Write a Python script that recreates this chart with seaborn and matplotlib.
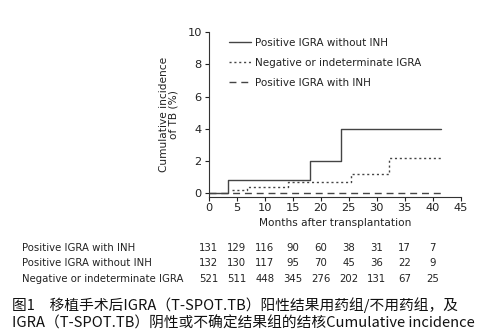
import matplotlib
matplotlib.use("Agg")
import matplotlib.pyplot as plt
import matplotlib.transforms as mtransforms
import seaborn as sns
import pandas as pd

# Kaplan-Meier style cumulative incidence (%) — step points per group
groups = ["Positive IGRA without INH",
          "Negative or indeterminate IGRA",
          "Positive IGRA with INH"]

t_pos_no_inh = [0, 3.4, 18.0, 23.6, 41.5]
y_pos_no_inh = [0, 0.8, 2.0, 4.0, 4.0]

t_neg = [4.1, 6.9, 14.1, 25.5, 32.2, 41.5]
y_neg = [0.2, 0.4, 0.7, 1.2, 2.2, 2.2]

t_pos_inh = [0, 41.5]
y_pos_inh = [0, 0]

# Numbers at risk
risk_times = [0, 5, 10, 15, 20, 25, 30, 35, 40]
risk_labels = ["Positive IGRA with INH",
               "Positive IGRA without INH",
               "Negative or indeterminate IGRA"]
risk_pos_inh = [131, 129, 116, 90, 60, 38, 31, 17, 7]
risk_pos_no_inh = [132, 130, 117, 95, 70, 45, 36, 22, 9]
risk_neg = [521, 511, 448, 345, 276, 202, 131, 67, 25]

caption_lines = [
    "图1　移植手术后IGRA（T-SPOT.TB）阳性结果用药组/不用药组，及",
    "IGRA（T-SPOT.TB）阴性或不确定结果组的结核Cumulative incidence",
]

sns.set_theme(style="ticks")
plt.rcParams["font.family"] = ["DejaVu Sans"]

df = pd.concat([
    pd.DataFrame({"t": t_pos_no_inh, "y": y_pos_no_inh, "g": groups[0]}),
    pd.DataFrame({"t": t_neg, "y": y_neg, "g": groups[1]}),
    pd.DataFrame({"t": t_pos_inh, "y": y_pos_inh, "g": groups[2]}),
], ignore_index=True)

fig = plt.figure(figsize=(4.88, 3.36), dpi=100)
ax = fig.add_axes([208.7 / 488, 1 - 196.5 / 336, (460.7 - 208.7) / 488, (196.5 - 32) / 336])

line_color = "#444444"
sns.lineplot(data=df, x="t", y="y", hue="g", style="g",
             hue_order=groups, style_order=groups,
             palette=[line_color] * 3,
             dashes={groups[0]: "", groups[1]: (1.5, 2.0), groups[2]: (5, 3.5)},
             drawstyle="steps-post", linewidth=1.0, ax=ax, legend=True,
             estimator=None, sort=False)

ax.set_xlim(0, 45)
ax.set_ylim(-0.2, 10)
ax.set_xticks(range(0, 46, 5))
ax.set_yticks(range(0, 11, 2))
ax.tick_params(labelsize=8.2, length=3, width=0.8, colors="#222222", pad=2)
for s in ["left", "bottom"]:
    ax.spines[s].set_linewidth(0.8)
    ax.spines[s].set_color("#333333")
sns.despine(ax=ax)
ax.set_xlabel("Months after transplantation", fontsize=7.6, labelpad=3, color="#222222")
ax.set_ylabel("Cumulative incidence\nof TB (%)", fontsize=7.6, labelpad=6, color="#222222",
              linespacing=1.0)

leg = ax.legend(loc="upper left", bbox_to_anchor=(0.045, 1.02), frameon=False,
                fontsize=7.5, handlelength=2.1, handletextpad=0.4, labelspacing=0.95)
for txt in leg.get_texts():
    txt.set_color("#222222")

# Numbers-at-risk table aligned with the x axis
trans = mtransforms.blended_transform_factory(ax.transData, fig.transFigure)
rows_y = [1 - 247.7 / 336, 1 - 263.3 / 336, 1 - 279.3 / 336]
for label, counts, yy in zip(risk_labels, [risk_pos_inh, risk_pos_no_inh, risk_neg], rows_y):
    fig.text(22 / 488, yy, label, fontsize=7.3, va="center", ha="left", color="#222222")
    for t, n in zip(risk_times, counts):
        ax.text(t, yy, str(n), transform=trans, fontsize=7.3, va="center", ha="center",
                color="#222222", clip_on=False)

# Caption
cap_font = ["Noto Sans CJK SC", "DejaVu Sans"]
fig.text(12 / 488, 1 - 305 / 336, caption_lines[0], fontsize=10.6, family=cap_font,
         va="center", ha="left", color="#111111")
fig.text(12 / 488, 1 - 323 / 336, caption_lines[1], fontsize=10.6, family=cap_font,
         va="center", ha="left", color="#111111")

fig.savefig("out.png", dpi=100)
